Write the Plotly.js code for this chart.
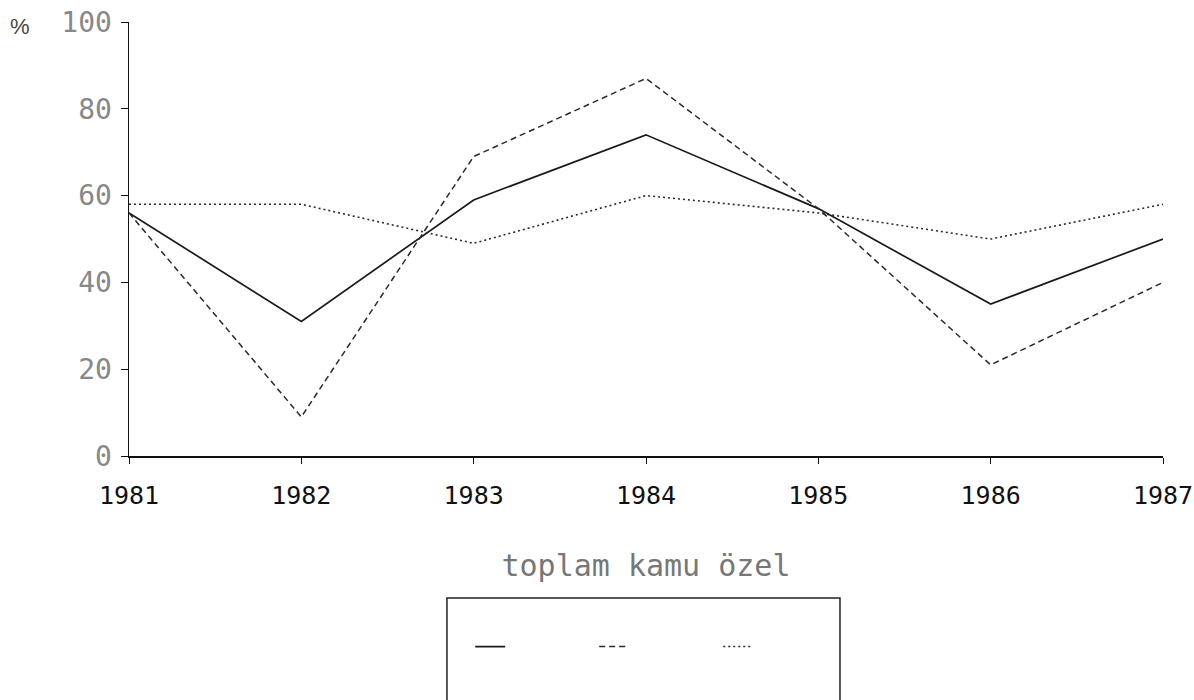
<!DOCTYPE html>
<html>
<head>
<meta charset="utf-8">
<script src="https://cdn.plot.ly/plotly-3.0.1.min.js"></script>
<style>html,body{margin:0;padding:0;background:#fff;}#chart{width:1194px;height:700px;}</style>
</head>
<body>
<div id="chart"></div>
<script>
const years = [1981, 1982, 1983, 1984, 1985, 1986, 1987];
const toplam = [56, 31, 59, 74, 57, 35, 50];
const kamu = [56, 9, 69, 87, 57, 21, 40];
const ozel = [58, 58, 49, 60, 56, 50, 58];
const yTicks = [0, 20, 40, 60, 80, 100];
const seriesNames = ['toplam', 'kamu', 'özel'];

const legendFontColor = 'rgba(0,0,0,0)';

const traces = [
  {x: years, y: toplam, name: seriesNames[0], mode: 'lines', line: {color: '#1a1a1a', width: 1.7, dash: 'solid'}},
  {x: years, y: kamu, name: seriesNames[1], mode: 'lines', line: {color: '#2a2a2a', width: 1.5, dash: '6px,4px'}},
  {x: years, y: ozel, name: seriesNames[2], mode: 'lines', line: {color: '#2a2a2a', width: 1.6, dash: '2px,3px'}}
];

const layout = {
  width: 1194, height: 700,
  margin: {l: 129, r: 31, t: 22, b: 244},
  paper_bgcolor: '#ffffff', plot_bgcolor: '#ffffff',
  showlegend: true,
  legend: {
    orientation: 'h', x: 0.33, xanchor: 'left', y: -0.44, yanchor: 'middle',
    font: {family: 'DejaVu Sans Mono', size: 14, color: legendFontColor},
    bgcolor: 'rgba(0,0,0,0)', borderwidth: 0,
    entrywidth: 79, entrywidthmode: 'pixels', itemclick: false, itemdoubleclick: false
  },
  xaxis: {
    range: [1981, 1987], tickmode: 'array', tickvals: years, ticktext: years.map(String),
    showgrid: false, zeroline: false,
    showline: true, linecolor: '#111', linewidth: 1.5,
    ticks: 'outside', ticklen: 6, tickwidth: 1, tickcolor: '#111',
    ticklabelstandoff: 10,
    tickfont: {family: 'DejaVu Sans Mono', size: 25, color: '#111'},
    title: {text: 'toplam kamu özel', standoff: 46, font: {family: 'DejaVu Sans Mono', size: 30, color: '#777'}}
  },
  yaxis: {
    range: [0, 100], tickmode: 'array', tickvals: yTicks, ticktext: yTicks.map(String),
    showgrid: false, zeroline: false,
    showline: true, linecolor: '#111', linewidth: 1.5,
    ticks: 'outside', ticklen: 7, tickwidth: 1, tickcolor: '#111',
    ticklabelstandoff: 3,
    tickfont: {family: 'DejaVu Sans Mono', size: 28, color: '#888'}
  },
  shapes: [
    {type: 'rect', xref: 'paper', yref: 'paper', x0: 0.3075, x1: 0.6876, y0: -0.327, y1: -0.62,
     line: {color: '#222', width: 1.5}, fillcolor: 'rgba(0,0,0,0)'}
  ],
  annotations: [
    {text: '%', xref: 'paper', yref: 'paper', x: -0.117, y: 0.99, xanchor: 'left', yanchor: 'middle',
     showarrow: false, font: {family: 'Liberation Sans', size: 22, color: '#444'}}
  ]
};

Plotly.newPlot('chart', traces, layout, {displayModeBar: false, staticPlot: true});
</script>
</body>
</html>
